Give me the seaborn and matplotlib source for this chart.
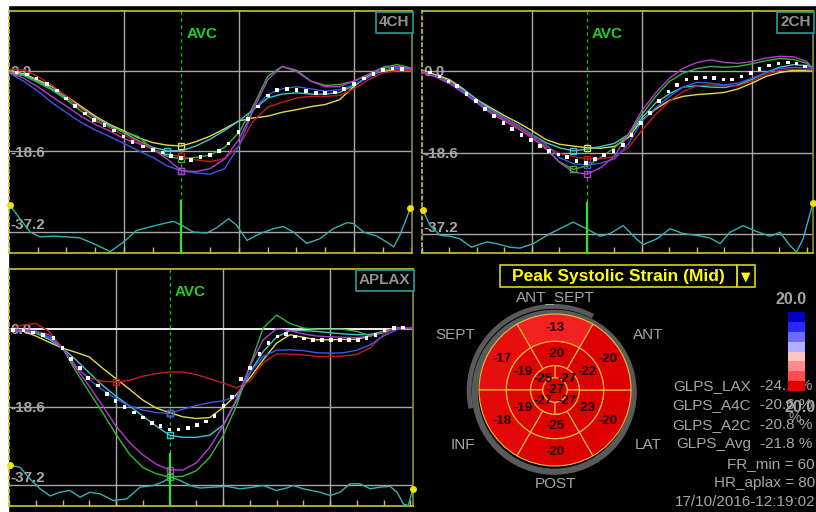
#!/usr/bin/env python3
"""
Speckle-tracking longitudinal strain report: 4CH / 2CH / APLAX strain curves
plus the mid-level peak systolic strain bullseye.
"""

import matplotlib
matplotlib.use("Agg")
import matplotlib.pyplot as plt
import matplotlib.transforms as mtransforms
from matplotlib.patches import Wedge, Circle, Rectangle, Arc
from matplotlib.colors import ListedColormap, LinearSegmentedColormap
import numpy as np
import pandas as pd
import seaborn as sns

# ---------------------------------------------------------------- data
SEGMENTS = ['yellow', 'cyan', 'green', 'red', 'blue', 'magenta']
AVC_MS = 300
GRID_LEVELS = [0.0, -18.6, -37.2]

# 4CH view (time in ms, strain in %)
t_4ch = np.arange(0, 701, 25)
s4_yellow = [0, -0.7, -2.1, -3.7, -5.9, -8.2, -10.5, -12.4, -13.9, -15.5, -16.6, -17.2, -17.4, -16.4, -15.1,
             -13.4, -11.6, -10.9, -10.5, -9.6, -9.0, -8.3, -7.8, -6.7, -3.6, -1.1, -0.1, 0.1, 0.1]
s4_cyan = [-0.2, -0.9, -2.4, -4.2, -6.3, -8.6, -10.9, -12.6, -14.3, -16.2, -17.7, -18.5, -18.5, -17.4, -15.8,
           -13.8, -11.6, -9.0, -6.3, -5.4, -5.1, -5.4, -5.4, -5.0, -3.4, -1.5, 0.1, 0.6, 0.5]
s4_green = [-0.2, -1.1, -2.7, -4.5, -6.7, -9.3, -11.6, -12.9, -14.2, -15.2, -18.1, -19.8, -20.4, -20.0, -19.5,
            -17.7, -14.3, -8.2, -1.3, 1.0, 0.1, -2.4, -3.4, -3.2, -2.4, -0.9, 0.8, 1.4, 0.6]
s4_red = [0.4, 0.2, -1.3, -3.4, -5.9, -8.8, -11.1, -13.2, -14.9, -16.4, -18.0, -19.3, -19.8, -20.6, -21.0,
          -20.3, -17.4, -11.6, -8.4, -7.3, -6.3, -5.9, -5.9, -5.7, -4.2, -2.1, -0.5, 0.0, 0.0]
s4_blue = [-0.5, -2.4, -4.7, -7.4, -9.7, -11.9, -13.7, -15.2, -16.8, -18.5, -20.0, -22.0, -23.1, -23.6, -23.9,
           -22.6, -17.4, -9.0, -5.5, -4.2, -3.7, -4.2, -4.7, -4.4, -3.2, -1.5, 0.2, 0.6, 0.6]
s4_magenta = [-0.4, -1.7, -3.7, -6.0, -8.2, -10.5, -12.4, -13.9, -15.7, -16.8, -18.1, -20.4, -23.1, -23.3, -22.6,
              -20.4, -15.8, -9.0, -2.1, 1.0, -0.2, -2.4, -3.7, -3.7, -2.4, -0.9, 0.6, 1.0, 0.6]
t4_avg = [13, 31, 48, 66, 83, 99, 115, 132, 148, 166, 183, 199, 215, 233, 250, 267, 282, 299, 316, 333, 350,
          365, 382, 399, 416, 433, 450, 466, 483, 500, 517, 534, 550, 567, 583, 600, 617, 634, 650, 667, 684]
s4_avg = [-0.4, -0.9, -1.8, -3.0, -4.6, -6.4, -8.2, -9.9, -11.4, -12.6, -13.8, -15.2, -16.4, -17.5, -18.3, -18.9,
          -19.7, -20.1, -20.6, -19.9, -19.5, -18.5, -16.8, -14.1, -11.1, -8.3, -5.7, -4.5, -4.2, -4.4, -4.7, -5.1,
          -5.1, -5.0, -4.2, -3.0, -1.8, -0.7, 0.2, 0.5, 0.4]
t4_ecg = [2, 19, 37, 54, 77, 100, 123, 153, 176, 199, 222, 245, 269, 286, 300, 321, 344, 361, 382, 396, 414,
          437, 460, 477, 495, 518, 541, 564, 588, 599, 617, 640, 657, 669, 680, 698]
e4 = [-31.1, -34.2, -37.3, -38.4, -38.2, -38.4, -38.6, -40.3, -41.8, -39.6, -36.9, -36.1, -35.3, -34.8, -35.7,
      -37.3, -37.5, -36.3, -34.2, -35.7, -39.2, -37.6, -36.5, -36.0, -37.3, -39.9, -38.8, -36.5, -35.1, -35.3,
      -37.3, -38.2, -39.6, -40.7, -38.0, -31.8]

# 2CH view
t_2ch = np.append(np.arange(0, 701, 25), 711)
s2_yellow = [0.1, -0.9, -2.0, -4.1, -6.6, -8.4, -10.2, -11.8, -13.6, -15.6, -16.7, -17.1, -17.5, -17.6, -17.2,
             -15.2, -11.2, -8.7, -6.7, -5.8, -5.4, -5.2, -4.9, -4.1, -2.8, -1.3, -0.4, 0.1, 0.1, 0.1]
s2_cyan = [-0.1, -1.1, -2.4, -4.3, -6.6, -8.8, -10.7, -12.4, -14.5, -16.3, -17.5, -18.2, -17.8, -17.2, -16.5,
           -14.5, -10.7, -7.3, -5.2, -3.7, -3.4, -3.7, -3.8, -3.2, -1.9, -0.4, 0.8, 1.4, 1.2, 0.8]
s2_green = [-0.2, -1.3, -2.6, -4.7, -6.9, -9.2, -11.1, -12.8, -14.8, -17.5, -20.7, -22.4, -21.6, -19.7, -17.5,
            -14.5, -9.9, -5.8, -2.4, -0.5, 0.5, 1.0, 0.8, 1.0, 1.6, 2.3, 2.8, 2.6, 1.7, 0.6]
s2_red = [-0.1, -1.3, -2.6, -4.7, -6.9, -9.2, -11.1, -12.7, -15.0, -17.1, -18.8, -19.5, -20.0, -20.0, -19.5,
          -17.5, -13.5, -9.9, -6.9, -4.7, -3.4, -3.2, -3.4, -3.4, -2.3, -0.9, 0.1, 0.4, 0.3, 0.2]
s2_blue = [-0.3, -1.3, -2.6, -4.7, -6.9, -9.0, -10.7, -12.4, -14.5, -16.7, -19.7, -21.1, -21.4, -21.0, -20.0,
           -16.7, -11.4, -8.4, -5.8, -3.7, -2.6, -2.8, -3.2, -2.8, -1.7, -0.4, 0.5, 0.8, 0.7, 0.5]
s2_magenta = [-0.3, -1.4, -2.9, -5.0, -7.3, -9.6, -11.4, -13.2, -15.2, -17.7, -20.8, -23.0, -23.5, -22.0, -19.4,
              -14.5, -9.0, -5.0, -1.7, 0.6, 1.9, 2.5, 1.9, 1.7, 2.1, 2.9, 3.3, 3.2, 2.1, 0.4]
t2_avg = [15, 32, 48, 64, 81, 98, 115, 131, 148, 164, 181, 198, 215, 231, 248, 264, 281, 298, 315, 331, 348,
          365, 381, 398, 415, 431, 448, 464, 481, 498, 515, 531, 548, 564, 581, 598, 614, 631, 648, 665, 681, 697]
s2_avg = [-0.4, -1.3, -2.4, -3.5, -5.3, -6.8, -8.7, -10.2, -11.8, -13.2, -14.6, -15.8, -17.1, -18.2, -19.0, -19.6,
          -20.5, -20.9, -20.1, -19.2, -18.2, -16.8, -14.6, -11.8, -9.6, -6.8, -4.7, -3.2, -2.0, -1.7, -1.5, -1.7,
          -2.0, -2.0, -1.3, -0.5, 0.4, 1.2, 1.7, 1.9, 1.7, 1.0]
t2_ecg = [1, 15, 33, 51, 69, 90, 118, 136, 160, 178, 202, 233, 257, 275, 299, 324, 342, 366, 390, 402, 427,
          451, 475, 499, 524, 542, 560, 584, 608, 633, 651, 669, 681, 693, 711]
e2 = [-31.6, -35.2, -37.4, -37.6, -38.2, -40.1, -38.9, -39.3, -40.1, -40.3, -39.3, -37.0, -35.5, -34.4, -35.9,
      -37.6, -37.0, -35.2, -38.2, -39.5, -38.2, -35.9, -37.0, -37.4, -38.0, -39.3, -36.7, -35.2, -36.5, -37.6,
      -36.7, -39.7, -41.2, -38.2, -30.0]

# APLAX view
t_aplax = np.append(np.arange(0, 751, 25), 755)
sa_yellow = [-0.2, -0.5, -1.7, -3.2, -4.6, -5.6, -6.7, -9.4, -11.9, -14.4, -17.0, -18.9, -20.0, -21.0, -21.4,
             -21.2, -18.8, -15.7, -11.7, -7.4, -3.4, -1.4, -2.0, -2.6, -2.6, -2.5, -2.5, -1.7, -0.6, -0.1, 0.3, 0.3]
sa_cyan = [-0.2, -0.2, -1.0, -2.5, -4.6, -7.4, -10.5, -13.5, -16.1, -18.4, -20.8, -23.2, -25.4, -25.9, -25.9,
           -25.4, -23.0, -17.2, -10.5, -5.4, -2.0, -0.4, -0.4, -0.6, -0.9, -1.2, -1.4, -1.3, -0.6, 0.0, 0.3, 0.3]
sa_green = [-0.1, -0.3, -0.9, -2.0, -4.6, -10.1, -15.1, -20.0, -25.2, -29.9, -33.1, -34.6, -35.4, -35.2, -33.9,
            -30.7, -25.5, -18.4, -8.9, 0.2, 3.3, 1.3, 0.2, -0.1, -0.1, -0.1, -0.6, -1.7, -0.9, 0.0, 0.2, 0.2]
sa_red = [-0.2, 0.9, 1.3, -0.6, -4.6, -9.3, -11.7, -12.5, -12.7, -12.3, -11.3, -10.7, -10.3, -10.3, -10.9,
          -11.9, -12.9, -14.1, -12.5, -8.1, -6.0, -6.0, -6.2, -6.6, -6.6, -6.5, -6.1, -4.5, -1.4, 0.4, 0.2, 0.2]
sa_blue = [-0.4, -0.2, -0.5, -2.0, -4.6, -8.8, -12.1, -14.6, -16.7, -18.4, -19.4, -20.0, -20.2, -19.2, -18.3,
           -17.6, -17.2, -16.1, -10.5, -6.6, -5.1, -5.0, -5.2, -5.7, -5.8, -5.7, -5.1, -3.8, -1.7, -0.2, 0.3, 0.3]
sa_magenta = [-0.5, -0.6, -0.6, -1.4, -4.6, -9.3, -13.7, -18.4, -23.2, -27.1, -30.1, -32.3, -33.7, -33.7, -32.0,
              -28.3, -23.2, -16.8, -8.9, -2.6, 0.0, -0.4, -1.2, -1.7, -1.9, -2.0, -2.1, -1.7, -0.6, 0.3, 0.0, 0.0]
ta_avg = [8, 27, 45, 64, 83, 100, 116, 133, 148, 166, 183, 199, 216, 233, 250, 267, 283, 300, 317, 334, 351, 368,
          384, 401, 417, 434, 451, 468, 485, 502, 518, 535, 551, 568, 585, 602, 619, 635, 652, 668, 685, 702, 719, 736]
sa_avg = [-0.2, -0.4, -0.9, -1.4, -2.1, -4.6, -7.2, -9.3, -11.7, -13.5, -15.5, -17.2, -18.6, -20.0, -21.2, -22.4,
          -23.2, -24.0, -24.0, -23.7, -22.9, -22.1, -20.8, -18.4, -16.2, -11.9, -9.3, -6.0, -3.4, -1.8, -1.2, -1.8,
          -2.3, -2.6, -2.7, -2.7, -2.7, -2.7, -2.6, -2.2, -1.4, -0.2, 0.2, 0.3]
ta_ecg = [2, 21, 39, 58, 77, 95, 114, 133, 151, 170, 195, 220, 245, 270, 288, 302, 320, 338, 357, 382, 407, 432,
          457, 475, 500, 519, 531, 550, 581, 600, 619, 637, 656, 675, 693, 712, 725, 737, 746, 755]
ea = [-32.5, -33.1, -35.8, -38.2, -39.9, -39.0, -38.6, -40.2, -39.0, -39.4, -41.0, -40.6, -37.8, -37.4, -36.5,
      -35.4, -36.2, -37.4, -38.0, -37.8, -37.6, -38.2, -37.8, -37.4, -38.6, -38.0, -37.4, -38.2, -39.0, -39.8,
      -39.0, -37.0, -37.0, -38.2, -37.8, -37.6, -39.0, -41.8, -42.2, -38.2]

# bullseye (mid-level peak systolic strain, %)
WALLS = ['ANT_SEPT', 'SEPT', 'INF', 'POST', 'LAT', 'ANT']
basal_vals = [-13, -17, -18, -20, -20, -20]
mid_vals = [-20, -19, -19, -25, -23, -22]
apical_vals = [-27, -25, -27, -27]          # upper-right, upper-left, lower-left, lower-right
apex_val = -27

glps_names = ['GLPS_LAX', 'GLPS_A4C', 'GLPS_A2C', 'GLPS_Avg']
glps_vals = [-24.1, -20.6, -20.8, -21.8]
fr_min = 60
hr_aplax = 80
stamp = '17/10/2016-12:19:02'
scale_max = 20.0

# ---------------------------------------------------------------- style
SEG_COLORS = {'yellow': '#e2d94a', 'cyan': '#3cc8d0', 'green': '#34b834', 'red': '#c41c1c',
              'blue': '#3c58e6', 'magenta': '#b43ccc'}
GRID = '#a8a8a8'
YEL = '#c8c43a'
ECG_C = '#2fb4b4'
LBL_GRAY = '#a6a6a6'
RING_GRAY = '#5a5a5a'
CB_COLORS = ['#0000c4', '#2a2aff', '#6c6cff', '#b0b0ff', '#ffc4c4', '#ff8c8c', '#ff4e4e', '#e40000']

plt.rcParams['font.family'] = ['Liberation Sans', 'DejaVu Sans']

W, H = 816, 512


def px_axes(fig, x0, y0, x1, y1, **kw):
    """Axes placed by pixel box (top-left origin)."""
    return fig.add_axes([x0 / W, 1 - y1 / H, (x1 - x0) / W, (y1 - y0) / H], **kw)


def pixel_overlay(fig, zorder):
    ov = fig.add_axes([0, 0, 1, 1], zorder=zorder)
    ov.set_xlim(0, W)
    ov.set_ylim(H, 0)
    ov.axis('off')
    return ov


def strain_panel(fig, box, t, curves, t_avg, avg, t_ecg, ecg, ylim, tmax, name, bright_zero=False):
    ax = px_axes(fig, *box)
    ax.set_facecolor('black')
    ax.set_xlim(0, tmax)
    ax.set_ylim(*ylim)

    for gx in np.arange(200, tmax, 200):
        ax.axvline(gx, color=GRID, lw=1, zorder=1)
    for gy in GRID_LEVELS:
        zero = bright_zero and gy == 0
        ax.axhline(gy, color='white' if zero else GRID, lw=1.3 if zero else 1, zorder=1)

    ytr = mtransforms.blended_transform_factory(ax.transAxes, ax.transData)
    lbl = dict(transform=ytr, color=LBL_GRAY, fontsize=11, fontweight='bold', ha='left', zorder=2)
    ax.text(0.003, 0, '0.0', va='center_baseline', **lbl)
    ax.text(0.003, -18.6, '-18.6', va='center_baseline', **lbl)
    ax.text(0.003, -36.6, '-37.2', va='baseline', **lbl)

    long = pd.DataFrame({
        't': np.tile(t, len(SEGMENTS)),
        'strain': np.concatenate([curves[s] for s in SEGMENTS]),
        'segment': np.repeat(SEGMENTS, len(t)),
    })
    sns.lineplot(data=long, x='t', y='strain', hue='segment', palette=SEG_COLORS, estimator=None,
                 sort=False, legend=False, lw=1.0, ax=ax, zorder=3)

    # peak systolic markers (most negative value up to AVC)
    tt = np.asarray(t)
    for s in SEGMENTS:
        v = np.asarray(curves[s])
        sys_idx = np.where(tt <= AVC_MS)[0]
        i = sys_idx[np.argmin(v[sys_idx])]
        ax.plot(tt[i], v[i], marker='s', mfc='none', mec=SEG_COLORS[s], ms=5, mew=1, zorder=4)

    sns.scatterplot(x=t_avg, y=avg, marker='s', s=7, color='white', edgecolor='none', ax=ax, zorder=6)

    sns.lineplot(x=t_ecg, y=ecg, color=ECG_C, lw=1.0, estimator=None, sort=False, ax=ax, zorder=3)
    ax.plot([t_ecg[0], t_ecg[-1]], [ecg[0], ecg[-1]], ls='none', marker='o', ms=4,
            color='#f0e000', zorder=5, clip_on=False)

    # aortic valve closure
    ax.plot([AVC_MS, AVC_MS], [ylim[1], -30], color='#22b022', lw=1, ls=(0, (2.5, 2.5)), zorder=2)
    ax.plot([AVC_MS, AVC_MS], [-30, ylim[0]], color='#33e033', lw=1.6, zorder=4)
    xtr = mtransforms.blended_transform_factory(ax.transData, ax.transAxes)
    ax.text(AVC_MS + 9, 0.905, 'AVC', transform=xtr, color='#22d022', fontsize=11,
            fontweight='bold', ha='left', va='center')

    ax.text(0.994, 0.982, name, transform=ax.transAxes, ha='right', va='top', color='#929292',
            fontsize=11, fontweight='bold', zorder=7,
            bbox=dict(boxstyle='square,pad=0.22', fc='black', ec='#2c9c9c', lw=1.2))

    ax.set_xticks(np.arange(0, tmax, 50))
    ax.tick_params(axis='x', direction='in', length=4, width=1, color=YEL, labelbottom=False)
    ax.tick_params(axis='y', left=False, labelleft=False)
    ax.set_xlabel('')
    ax.set_ylabel('')
    for side in ['top', 'bottom']:
        ax.spines[side].set_color(YEL)
    ax.spines['left'].set_color(YEL)
    ax.spines['left'].set_linestyle((0, (2, 2)))
    ax.spines['right'].set_color('#8e8c32')
    for sp in ax.spines.values():
        sp.set_linewidth(1.2)
    return ax


def seg_color(v):
    cmap = LinearSegmentedColormap.from_list(
        'strain', [(0.0, '#dc0000'), (0.25, '#ff3030'), (0.5, '#ffffff'), (1.0, '#0000c4')])
    return cmap(np.clip((v + 20) / 40, 0, 1))


def bullseye(fig):
    bx = px_axes(fig, 469, 304, 641, 476)
    lim = 86 / 76
    bx.set_xlim(-lim, lim)
    bx.set_ylim(-lim, lim)
    bx.set_aspect('equal')
    bx.axis('off')

    # grey frame: tight ring plus an outer arc on the septal side
    bx.add_patch(Circle((-0.01, -0.03), 1.045, fill=False, ec=RING_GRAY, lw=4.5, clip_on=False))
    bx.add_patch(Arc((-0.02, -0.01), 2.22, 2.22, theta1=62, theta2=192, ec=RING_GRAY, lw=3.5,
                     clip_on=False))

    line = dict(ec='#e8c03c', lw=0.8)
    txt = dict(ha='center', va='center', fontsize=9.5, fontweight='bold', color='#1a0000')
    centers6 = [90, 150, 210, 270, 330, 30]
    for c, v in zip(centers6, basal_vals):
        bx.add_patch(Wedge((0, 0), 1.0, c - 30, c + 30, width=1.0 - 0.64, fc=seg_color(v), **line))
        a = np.deg2rad(c)
        bx.text(0.81 * np.cos(a), 0.81 * np.sin(a), f'{v}', **txt)
    for c, v in zip(centers6, mid_vals):
        bx.add_patch(Wedge((0, 0), 0.64, c - 30, c + 30, width=0.64 - 0.32, fc=seg_color(v), **line))
        a = np.deg2rad(c)
        bx.text(0.48 * np.cos(a), 0.48 * np.sin(a), f'{v}', **txt)
    for c, v in zip([45, 135, 225, 315], apical_vals):
        bx.add_patch(Wedge((0, 0), 0.32, c - 45, c + 45, width=0.32 - 0.16, fc=seg_color(v), **line))
        a = np.deg2rad(c)
        bx.text(0.22 * np.cos(a), 0.21 * np.sin(a), f'{v}', **txt)
    bx.add_patch(Circle((0, 0), 0.16, fc=seg_color(apex_val), **line))
    bx.text(0, 0, f'{apex_val}', **txt)
    return bx


def main():
    fig = plt.figure(figsize=(W / 100, H / 100), dpi=100, facecolor='black')

    ov = pixel_overlay(fig, 0)
    ov.add_patch(Rectangle((0, 0), 7.5, H, color='white'))
    ov.add_patch(Rectangle((0, 0), W, 4.5, color='white'))

    strain_panel(fig, (9, 11, 412, 252.5), t_4ch,
                 dict(yellow=s4_yellow, cyan=s4_cyan, green=s4_green, red=s4_red, blue=s4_blue, magenta=s4_magenta),
                 t4_avg, s4_avg, t4_ecg, e4, (-42.0, 13.8), 701, '4CH')
    strain_panel(fig, (422, 11, 813, 252.5), t_2ch,
                 dict(yellow=s2_yellow, cyan=s2_cyan, green=s2_green, red=s2_red, blue=s2_blue, magenta=s2_magenta),
                 t2_avg, s2_avg, t2_ecg, e2, (-41.3, 13.6), 711, '2CH')
    strain_panel(fig, (9, 269, 413, 506), t_aplax,
                 dict(yellow=sa_yellow, cyan=sa_cyan, green=sa_green, red=sa_red, blue=sa_blue, magenta=sa_magenta),
                 ta_avg, sa_avg, ta_ecg, ea, (-42.3, 14.3), 755, 'APLAX', bright_zero=True)

    # bullseye panel header
    ov.add_patch(Rectangle((500, 265), 237, 22, fill=False, ec='#d6d600', lw=1.2))
    ov.add_patch(Rectangle((737, 265), 18, 22, fill=False, ec='#d6d600', lw=1.2))
    ov.text(618, 276.5, 'Peak Systolic Strain (Mid)', ha='center', va='center', color='#ffff00',
            fontsize=12.5, fontweight='bold')
    ov.text(746, 276.5, '\u25bc', ha='center', va='center', color='#ffff00', fontsize=9, family='DejaVu Sans')

    bullseye(fig)

    top = pixel_overlay(fig, 5)
    wall_pos = {'ANT_SEPT': (555, 297), 'SEPT': (455, 335), 'ANT': (648, 335),
                'INF': (463, 445), 'LAT': (648, 445), 'POST': (555, 484)}
    for w in WALLS:
        x, y = wall_pos[w]
        top.text(x, y, w, ha='center', va='center', color=LBL_GRAY, fontsize=11)

    # global strain readouts (colour scale is drawn over them, as on the scanner)
    ov.text(791, 299, f'{scale_max:.1f}', ha='center', va='center', color=LBL_GRAY, fontsize=11.5,
            fontweight='bold')
    for k, (n, v) in enumerate(zip(glps_names, glps_vals)):
        y = 386 + k * 19.3
        ov.text(751, y, n, ha='right', va='center', color=LBL_GRAY, fontsize=11)
        ov.text(760, y, f'{v:.1f} %', ha='left', va='center', color=LBL_GRAY, fontsize=11)
    ov.text(816, 407, f'{scale_max:.1f}', ha='right', va='center', color=LBL_GRAY, fontsize=11.5,
            fontweight='bold')
    ov.text(795, 418, '%', ha='center', va='center', color=LBL_GRAY, fontsize=10)
    ov.text(815, 464, f'FR_min = {fr_min}', ha='right', va='center', color=LBL_GRAY, fontsize=11)
    ov.text(815, 483, f'HR_aplax = {hr_aplax}', ha='right', va='center', color=LBL_GRAY, fontsize=11)
    ov.text(815, 502, stamp, ha='right', va='center', color=LBL_GRAY, fontsize=11)

    cb = px_axes(fig, 788, 312, 805, 391)
    sns.heatmap(np.arange(len(CB_COLORS))[:, None], cmap=ListedColormap(CB_COLORS), cbar=False,
                xticklabels=False, yticklabels=False, ax=cb)
    cb.axis('off')

    fig.savefig('out.png', dpi=100, facecolor='black')


if __name__ == '__main__':
    main()
